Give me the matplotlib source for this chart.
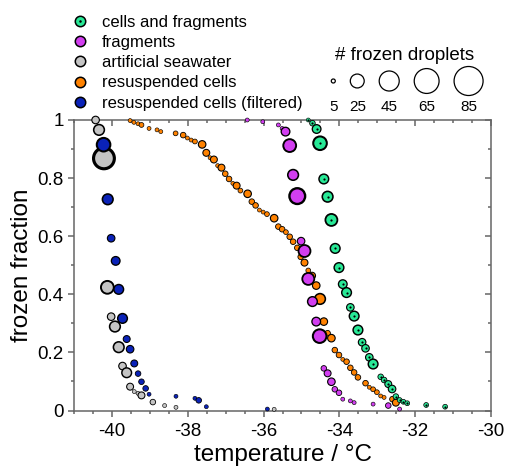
import numpy as np
import matplotlib
matplotlib.use("Agg")
import matplotlib.pyplot as plt
from matplotlib.lines import Line2D
from matplotlib.ticker import MultipleLocator, FuncFormatter

plt.rcParams['font.family'] = ['Liberation Sans', 'DejaVu Sans']
plt.rcParams['axes.unicode_minus'] = False

# temperature (degC), frozen fraction, number of droplets frozen in that step
cf_temp = [-34.82, -34.71, -34.60, -34.51, -34.41, -34.31, -34.21, -34.11, -34.01, -33.91,
           -33.81, -33.71, -33.61, -33.51, -33.40, -33.31, -33.21, -33.11, -32.91, -32.82,
           -32.71, -32.61, -32.51, -32.41, -32.31, -32.21, -31.71, -31.21]
cf_frac = [1.0, 0.989, 0.969, 0.920, 0.797, 0.736, 0.656, 0.558, 0.492, 0.435,
           0.406, 0.355, 0.325, 0.277, 0.235, 0.214, 0.183, 0.160, 0.116, 0.105,
           0.091, 0.074, 0.048, 0.036, 0.030, 0.025, 0.019, 0.013]
cf_n = [4, 6, 11, 22, 13, 15, 18, 13, 13, 11,
        13, 9, 13, 13, 9, 9, 9, 13, 6, 6,
        8, 9, 6, 5, 5, 5, 5, 5]

fr_temp = [-36.43, -36.02, -35.61, -35.51, -35.42, -35.31, -35.22, -35.11, -35.01, -34.92,
           -34.82, -34.71, -34.61, -34.52, -34.41, -34.31, -34.21, -34.12, -34.01, -33.91,
           -33.71, -33.61, -33.11, -32.71, -32.41]
fr_frac = [1.0, 0.994, 0.983, 0.971, 0.960, 0.912, 0.811, 0.738, 0.583, 0.549,
           0.453, 0.375, 0.306, 0.256, 0.145, 0.128, 0.099, 0.073, 0.061, 0.039,
           0.033, 0.027, 0.022, 0.017, 0.005]
fr_n = [4, 4, 4, 4, 11, 20, 15, 28, 9, 18,
        18, 13, 11, 22, 6, 8, 9, 6, 6, 4,
        4, 4, 4, 6, 4]

asw_temp = [-40.43, -40.34, -40.21, -40.12, -40.02, -39.92, -39.82, -39.72, -39.61, -39.52,
            -39.41, -39.31, -39.22, -38.92, -38.61, -38.31, -35.72]
asw_frac = [1.0, 0.966, 0.868, 0.424, 0.323, 0.289, 0.218, 0.153, 0.130, 0.082,
            0.065, 0.059, 0.052, 0.029, 0.017, 0.011, 0.004]
asw_n = [9, 15, 45, 20, 9, 15, 15, 9, 13, 8,
         4, 4, 8, 6, 4, 4, 4]

rc_temp = [-39.52, -39.42, -39.31, -39.22, -39.02, -38.81, -38.71, -38.32, -38.12, -38.01,
           -37.91, -37.81, -37.62, -37.51, -37.41, -37.31, -37.21, -37.11, -37.01, -36.91,
           -36.81, -36.71, -36.61, -36.42, -36.31, -36.21, -36.11, -36.01, -35.91, -35.72,
           -35.61, -35.51, -35.41, -35.31, -35.22, -35.11, -35.02, -34.92, -34.82, -34.72,
           -34.61, -34.51, -34.41, -34.31, -34.21, -34.12, -34.01, -33.91, -33.81, -33.71,
           -33.61, -33.51, -33.31, -33.21, -33.11, -33.01, -32.91, -32.82, -32.60, -32.51]
rc_frac = [0.998, 0.992, 0.987, 0.983, 0.971, 0.966, 0.960, 0.954, 0.948, 0.938,
           0.931, 0.926, 0.916, 0.887, 0.870, 0.864, 0.843, 0.836, 0.815, 0.797,
           0.782, 0.774, 0.757, 0.746, 0.719, 0.706, 0.690, 0.683, 0.676, 0.662,
           0.633, 0.624, 0.614, 0.598, 0.581, 0.560, 0.529, 0.509, 0.482, 0.464,
           0.430, 0.384, 0.306, 0.266, 0.249, 0.208, 0.191, 0.176, 0.168, 0.147,
           0.131, 0.114, 0.094, 0.080, 0.073, 0.063, 0.050, 0.045, 0.039, 0.027]
rc_n = [4, 4, 4, 5, 4, 4, 4, 5, 6, 4,
        4, 5, 9, 8, 4, 8, 4, 8, 6, 6,
        4, 8, 5, 9, 6, 6, 4, 4, 5, 9,
        6, 6, 5, 6, 6, 6, 6, 8, 5, 8,
        9, 15, 9, 6, 9, 6, 6, 4, 6, 6,
        6, 6, 6, 4, 5, 5, 4, 4, 6, 8]

rcf_temp = [-40.22, -40.11, -40.02, -39.90, -39.82, -39.72, -39.61, -39.52, -39.41, -39.31,
            -39.22, -39.11, -39.02, -38.31, -37.81, -37.71, -37.51, -35.90]
rcf_frac = [0.915, 0.727, 0.593, 0.515, 0.417, 0.317, 0.246, 0.211, 0.162, 0.127,
            0.099, 0.076, 0.056, 0.049, 0.042, 0.035, 0.013, 0.005]
rcf_n = [22, 15, 9, 11, 13, 13, 8, 9, 8, 6,
         6, 6, 4, 4, 4, 6, 4, 4]

labels = ['cells and fragments', 'fragments', 'artificial seawater',
          'resuspended cells', 'resuspended cells (filtered)']
colors = ['#28e896', '#d23ef0', '#c4c4c4', '#ff8200', '#0a22b8']
size_levels = [5, 25, 45, 65, 85]

PT = 72.0 / 100  # points per pixel


def outer_px(n):
    # marker diameter in pixels for n frozen droplets
    return 3.58 * np.sqrt(np.asarray(n, float)) - 4


def plot_series(ax, t, f, n, color, z):
    d = outer_px(n) + 0.8
    lw = 0.15 * d
    ax.scatter(t, f, s=(d * PT) ** 2, c=color, edgecolors='k',
               linewidths=lw * PT, zorder=z, clip_on=False)


fig = plt.figure(figsize=(5.07, 4.75), dpi=100)
ax = fig.add_axes([74 / 507, 1 - 410.5 / 475, 417 / 507, 290.5 / 475])

plot_series(ax, asw_temp, asw_frac, asw_n, colors[2], 3)
plot_series(ax, rcf_temp, rcf_frac, rcf_n, colors[4], 4)
plot_series(ax, rc_temp, rc_frac, rc_n, colors[3], 5)
plot_series(ax, fr_temp, fr_frac, fr_n, colors[1], 6)
plot_series(ax, cf_temp, cf_frac, cf_n, colors[0], 7)
ax.scatter(cf_temp, cf_frac, s=(2.2 * PT) ** 2, c='k', linewidths=0, zorder=8, clip_on=False)

ax.set_xlim(-41, -30)
ax.set_ylim(0, 1)
gray = '0.4'
for sp in ax.spines.values():
    sp.set_color(gray)
    sp.set_linewidth(1.1)
ax.xaxis.set_major_locator(MultipleLocator(2))
ax.xaxis.set_minor_locator(MultipleLocator(0.5))
ax.yaxis.set_major_locator(MultipleLocator(0.2))
ax.yaxis.set_minor_locator(MultipleLocator(0.1))
ax.yaxis.set_major_formatter(FuncFormatter(lambda v, p: '%g' % round(v, 2)))
ax.tick_params(which='both', direction='out', color=gray, width=1.1, labelsize=13.5)
ax.tick_params(axis='x', pad=5)
ax.tick_params(which='major', length=4)
ax.tick_params(which='minor', length=2.3)

secx = ax.secondary_xaxis('top')
secx.xaxis.set_major_locator(MultipleLocator(2))
secx.xaxis.set_minor_locator(MultipleLocator(0.5))
secx.tick_params(which='both', direction='in', color=gray, width=1.1, labeltop=False)
secx.tick_params(which='major', length=4)
secx.tick_params(which='minor', length=2.3)
secx.spines['top'].set_visible(False)
secy = ax.secondary_yaxis('right')
secy.yaxis.set_major_locator(MultipleLocator(0.2))
secy.yaxis.set_minor_locator(MultipleLocator(0.1))
secy.tick_params(which='both', direction='in', color=gray, width=1.1, labelright=False)
secy.tick_params(which='major', length=4)
secy.tick_params(which='minor', length=2.3)
secy.spines['right'].set_visible(False)

ax.set_xlabel('temperature / °C', fontsize=17.5, labelpad=3)
ax.set_ylabel('frozen fraction', fontsize=17.5, labelpad=3)

# colour legend
handles = []
for i, c in enumerate(colors):
    h = Line2D([], [], ls='', marker='o', ms=7.5, mfc=c, mec='k', mew=1.1)
    if i == 0:
        h = (h, Line2D([], [], ls='', marker='o', ms=1.8, mfc='k', mec='k', mew=0))
    handles.append(h)
fig.legend(handles, labels, loc='upper left', bbox_to_anchor=(72 / 507, 1 - 15 / 475),
           frameon=False, fontsize=12, handlelength=1.0, handletextpad=0.8,
           labelspacing=0.31, borderpad=0, borderaxespad=0)

# size legend
ov = fig.add_axes([0, 0, 1, 1])
ov.set_xlim(0, 507)
ov.set_ylim(475, 0)
ov.axis('off')
d_leg = outer_px(size_levels)
xs = [333.3]
for i in range(1, len(d_leg)):
    xs.append(xs[-1] + d_leg[i - 1] / 2 + 15 + d_leg[i] / 2)
ov.scatter(xs, [81] * len(xs), s=(d_leg * PT) ** 2, facecolors='white',
           edgecolors='k', linewidths=0.9)
for x, v in zip(xs, size_levels):
    ov.text(x, 107, str(v), ha='center', va='center', fontsize=11)
ov.text(404.5, 56, '# frozen droplets', ha='center', va='center', fontsize=13.5)

fig.savefig('out.png', dpi=100)
